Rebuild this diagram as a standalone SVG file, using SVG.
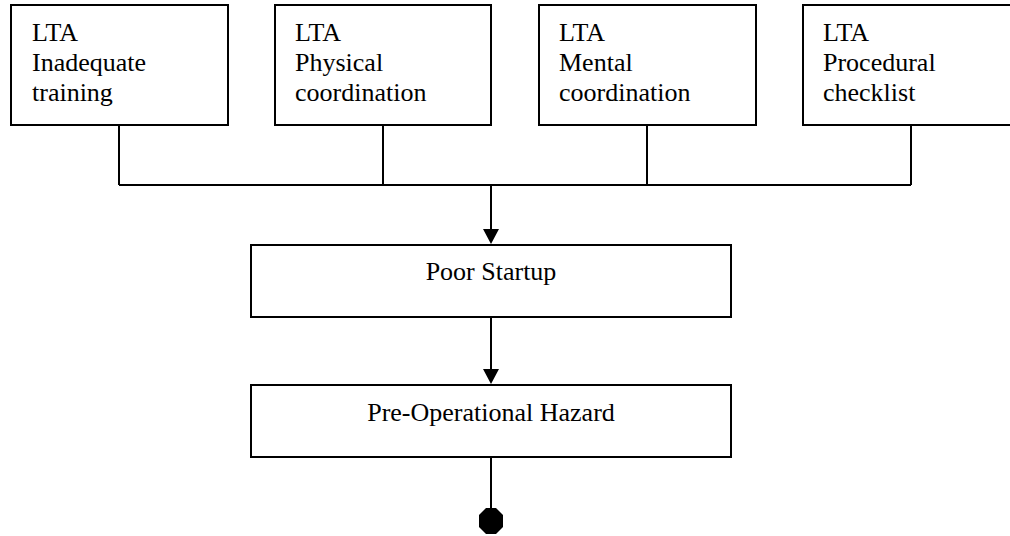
<svg xmlns="http://www.w3.org/2000/svg" width="1010" height="536" viewBox="0 0 1010 536">
<style>
.box{fill:#fff;stroke:#000;stroke-width:2}
.t{font-family:"Liberation Serif","Times New Roman",serif;font-size:26px;fill:#000}
.c{text-anchor:middle}
.ln{fill:none;stroke:#000;stroke-width:2}
</style>
<defs>
<marker id="arr" markerWidth="16" markerHeight="15" refX="8" refY="15" orient="auto" markerUnits="userSpaceOnUse" viewBox="0 0 16 15">
<path d="M0,0 L16,0 L8,15 Z" fill="#000" transform="rotate(-90 8 7.5)"/>
</marker>
</defs>
<rect width="1010" height="536" fill="#fff"/>
<g id="connectors">
<path class="ln" d="M119,125 V185 M383,125 V185 M647,125 V185 M911,125 V185 M119,185 H911"/>
<line class="ln" x1="491" y1="185" x2="491" y2="232"/>
<path d="M483,229 L499,229 L491,244 Z" fill="#000"/>
<line class="ln" x1="491" y1="317" x2="491" y2="372"/>
<path d="M483,369 L499,369 L491,384 Z" fill="#000"/>
<line class="ln" x1="491" y1="457" x2="491" y2="510"/>
<polygon points="486,508 496,508 503,515 503,527 496,534 486,534 479,527 479,515" fill="#000"/>
</g>
<g id="n1">
<rect class="box" x="11" y="5" width="217" height="120"/>
<text class="t" x="32" y="41">LTA</text>
<text class="t" x="32" y="71">Inadequate</text>
<text class="t" x="32" y="101">training</text>
</g>
<g id="n2">
<rect class="box" x="275" y="5" width="216" height="120"/>
<text class="t" x="295" y="41">LTA</text>
<text class="t" x="295" y="71">Physical</text>
<text class="t" x="295" y="101">coordination</text>
</g>
<g id="n3">
<rect class="box" x="539" y="5" width="217" height="120"/>
<text class="t" x="559" y="41">LTA</text>
<text class="t" x="559" y="71">Mental</text>
<text class="t" x="559" y="101">coordination</text>
</g>
<g id="n4">
<rect class="box" x="803" y="5" width="220" height="120"/>
<text class="t" x="823" y="41">LTA</text>
<text class="t" x="823" y="71">Procedural</text>
<text class="t" x="823" y="101">checklist</text>
</g>
<g id="n5">
<rect class="box" x="251" y="245" width="480" height="72"/>
<text class="t c" x="491" y="280">Poor Startup</text>
</g>
<g id="n6">
<rect class="box" x="251" y="385" width="480" height="72"/>
<text class="t c" x="491" y="421">Pre-Operational Hazard</text>
</g>
</svg>
